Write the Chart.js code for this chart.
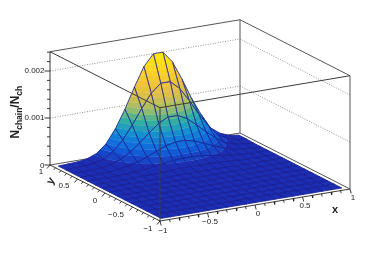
<!DOCTYPE html>
<html>
<head>
<meta charset="utf-8">
<title>N chain surface</title>
<script src="https://cdn.jsdelivr.net/npm/chart.js@4/dist/chart.umd.min.js"></script>
<style>
    html,body{margin:0;padding:0;background:#fff;}
    canvas{display:block;}
</style>
</head>
<body>
<canvas id="myChart" width="374" height="254"></canvas>
<script>
// Values
const xNodes = [-0.95,-0.85,-0.75,-0.65,-0.55,-0.45,-0.35,-0.25,-0.15,-0.05,0.05,0.15,0.25,0.35,0.45,0.55,0.65,0.75,0.85,0.95];
const yNodes = [-0.933,-0.8,-0.667,-0.533,-0.4,-0.267,-0.133,0,0.133,0.267,0.4,0.533,0.667,0.8,0.933];
// z in units of 1e-5, one row per y node, first row is y = -0.933
const zRows = [
    [0,0,0,0,0,0,0,0,0,0,0,0,0,0,0,0,0,0,0,0],
    [0,0,0,0,0,0,0,0,0,0,0,0,0,0,0,0,0,0,0,0],
    [0,0,0,0,0,0,0,0,0,0,0,0,0,0,0,0,0,0,0,0],
    [0,0,0,0,0,0,0,0,0,0,0,0,0,0,0,0,0,0,0,0],
    [0,0,0,0,0,0,0,0,0,0,0,0,0,0,0,0,0,0,0,0],
    [0,0,0,0,0,0,0,0,0,0,0,0,0,0,0,0,0,0,0,0],
    [0,0,0,0,0,0,0,0,0,0,0,0,0,0,0,0,0,0,0,0],
    [0,0,0,0,0,0,0,0,0,0,0,0,0,0,0,0,0,0,0,0],
    [0,0,0,0,0,0,0,0,1,1,1,1,1,1,0,0,0,0,0,0],
    [0,0,0,0,0,1,1,2,3,4,4,4,4,3,2,1,0,0,0,0],
    [0,0,0,0,1,2,4,7,10,13,14,14,13,10,7,4,2,1,0,0],
    [0,0,0,1,3,6,12,19,28,36,41,41,36,28,19,12,5,2,1,0],
    [0,0,1,2,5,13,25,41,59,76,86,86,76,59,41,25,11,5,2,0],
    [0,1,1,4,9,22,43,71,103,132,150,150,132,103,71,43,20,9,3,1],
    [0,1,2,5,13,30,59,97,141,181,205,205,181,141,97,59,27,12,4,1]
];
const zUnit = 1e-5;

// Axis ticks and labels
const zMajor = [0,0.001,0.002];
const zMinor = [0.0002,0.0004,0.0006,0.0008,0.0012,0.0014,0.0016,0.0018,0.0022,0.0024];
const xyMajor = [-1,-0.5,0,0.5,1];
const xyMinor = [-0.9,-0.8,-0.7,-0.6,-0.4,-0.3,-0.2,-0.1,0.1,0.2,0.3,0.4,0.6,0.7,0.8,0.9];
const zTop = 0.00241;

// Colour palette of the surface, from low to high
const paletteStops = [[28,46,180],[16,100,222],[18,140,212],[50,176,158],[165,190,102],[220,190,72],[242,196,55],[253,213,32],[255,230,10]];
const bandCount = 20;

// Oblique projection of the box on the page
function project(x,y,z){
    return {
        x: 160 + 95*(x+1) - 55*(y+1),
        y: 221 - 16*(x+1) - 28*(y+1) - z*47000
    };
}

function seg(list,a,b){
    list.push(a,b,{x:null,y:null});
}

// Lines behind the surface
const gridLines = [];
zMajor.slice(1).forEach(z => {
    seg(gridLines,project(-1,1,z),project(1,1,z));
    seg(gridLines,project(1,1,z),project(1,-1,z));
});
const backLines = [];
seg(backLines,project(-1,1,0),project(1,1,0));
seg(backLines,project(1,1,0),project(1,-1,0));
seg(backLines,project(1,1,0),project(1,1,zTop));
seg(backLines,project(-1,1,zTop),project(1,1,zTop));
seg(backLines,project(1,1,zTop),project(1,-1,zTop));
seg(backLines,project(1,-1,0),project(1,-1,zTop));

// Lines on top of the surface
const frontLines = [];
seg(frontLines,project(-1,-1,0),project(-1,-1,zTop));
seg(frontLines,project(-1,1,zTop),project(-1,-1,zTop));
seg(frontLines,project(-1,-1,zTop),project(1,-1,zTop));
const axisLines = [];
seg(axisLines,project(-1,1,0),project(-1,1,zTop));
seg(axisLines,project(-1,1,0),project(-1,-1,0));
seg(axisLines,project(-1,-1,0),project(1,-1,0));
function tick(list,p,dx,dy){
    seg(list,p,{x:p.x+dx,y:p.y+dy});
}
zMajor.forEach(z => tick(axisLines,project(-1,1,z),-5.5,0));
zMinor.forEach(z => tick(axisLines,project(-1,1,z),-3,0));
xyMajor.forEach(v => {
    tick(axisLines,project(v,-1,0),1.2,4.5);
    tick(axisLines,project(-1,v,0),-3,3.5);
});
xyMinor.forEach(v => {
    tick(axisLines,project(v,-1,0),0.7,2.6);
    tick(axisLines,project(-1,v,0),-1.8,2.1);
});

// Colour of a band
function bandColor(k){
    const t = k/(bandCount-1)*(paletteStops.length-1);
    const a = Math.min(Math.floor(t),paletteStops.length-2);
    const f = t-a;
    const c = paletteStops[a].map((v,n) => Math.round(v+(paletteStops[a+1][n]-v)*f));
    return 'rgb('+c[0]+','+c[1]+','+c[2]+')';
}

// Keep the part of a polygon on one side of a z level
function clipZ(poly,level,keepAbove){
    const out = [];
    for(let i=0;i<poly.length;i++){
        const p = poly[i];
        const q = poly[(i+1)%poly.length];
        const pIn = keepAbove ? p.z>=level : p.z<=level;
        const qIn = keepAbove ? q.z>=level : q.z<=level;
        if(pIn){
            out.push(p);
        }
        if(pIn!==qIn){
            const f = (level-p.z)/(q.z-p.z);
            out.push({x:p.x+(q.x-p.x)*f,y:p.y+(q.y-p.y)*f,z:level});
        }
    }
    return out;
}

// Surface painted cell by cell, far cells first
const surfacePlugin = {
    id:'surface',
    afterDatasetDraw(chart,args){
        if(chart.data.datasets[args.index].label!=='back frame'){
            return;
        }
        const ctx = chart.ctx;
        const sx = chart.scales.x;
        const sy = chart.scales.y;
        const zMax = Math.max(...zRows.flat());
        function node(i,j){
            const z = zRows[j][i];
            const p = project(xNodes[i],yNodes[j],z*zUnit);
            return {x:sx.getPixelForValue(p.x),y:sy.getPixelForValue(p.y),z:z};
        }
        function path(poly){
            ctx.beginPath();
            poly.forEach((p,n) => n ? ctx.lineTo(p.x,p.y) : ctx.moveTo(p.x,p.y));
            ctx.closePath();
        }
        ctx.save();
        ctx.lineJoin = 'round';
        for(let j=yNodes.length-2;j>=0;j--){
            for(let i=xNodes.length-2;i>=0;i--){
                const cell = [node(i,j),node(i+1,j),node(i+1,j+1),node(i,j+1)];
                for(let k=0;k<bandCount;k++){
                    const lo = zMax*k/bandCount;
                    const hi = zMax*(k+1)/bandCount;
                    let part = k===0 ? cell : clipZ(cell,lo,true);
                    if(part.length>2){
                        part = clipZ(part,hi,false);
                    }
                    if(part.length>2){
                        path(part);
                        ctx.fillStyle = bandColor(k);
                        ctx.strokeStyle = ctx.fillStyle;
                        ctx.lineWidth = 0.4;
                        ctx.fill();
                        ctx.stroke();
                    }
                }
                path(cell);
                ctx.strokeStyle = 'rgb(25,32,145)';
                ctx.lineWidth = 0.8;
                ctx.stroke();
            }
        }
        ctx.restore();
    }
};

// Tick labels and axis titles
const labelPlugin = {
    id:'labels',
    afterDraw(chart){
        const ctx = chart.ctx;
        ctx.save();
        ctx.fillStyle = '#222';
        ctx.textBaseline = 'middle';
        ctx.font = '8px "Liberation Sans"';
        function put(text,x,y,align){
            ctx.textAlign = align || 'center';
            ctx.fillText(text,x,y);
        }
        put('0.002',44.5,71,'right');
        put('0.001',44.5,118,'right');
        put('0',44.5,165.5,'right');
        put('1',41,172);
        put('0.5',64,186);
        put('0',95,200.5);
        put('\u22120.5',116,215);
        put('\u22121',148,229);
        put('\u22121',163,231);
        put('\u22120.5',210,222);
        put('0',258,214);
        put('0.5',305,206);
        put('1',353,198);

        ctx.font = 'bold 11px "Liberation Sans"';
        put('x',335,210);
        ctx.save();
        ctx.translate(51,181);
        ctx.rotate(-60*Math.PI/180);
        put('y',0,0);
        ctx.restore();

        // N_chain/N_ch, rotated
        ctx.save();
        ctx.translate(18.5,138.5);
        ctx.rotate(-Math.PI/2);
        ctx.textAlign = 'left';
        ctx.textBaseline = 'alphabetic';
        let pos = 0;
        function run(text,size,drop){
            ctx.font = 'bold '+size+'px "Liberation Sans"';
            ctx.fillText(text,pos,drop);
            pos += ctx.measureText(text).width;
        }
        run('N',12,0);
        run('chain',8.5,3.5);
        run('/',12,0);
        run('N',12,0);
        run('ch',8.5,3.5);
        ctx.restore();
        ctx.restore();
    }
};

function lineSet(label,data,color,width,order,dash){
    return {
        label:label,
        data:data,
        showLine:true,
        spanGaps:false,
        borderColor:color,
        borderWidth:width,
        borderDash:dash || [],
        pointRadius:0,
        order:order,
        clip:false
    };
}

const ctx = document.getElementById('myChart').getContext('2d');
const myChart = new Chart(ctx,{
    type:'scatter',
    data:{
        datasets:[
            lineSet('grid',gridLines,'#777',0.8,5,[1,1.5]),
            lineSet('back frame',backLines,'#555',1,4),
            lineSet('front frame',frontLines,'#3c3c3c',1,2),
            lineSet('axes',axisLines,'#222',0.9,1)
        ]
    },
    options:{
        responsive:false,
        animation:false,
        layout:{padding:0},
        plugins:{legend:{display:false},tooltip:{enabled:false}},
        scales:{
            x:{type:'linear',min:0,max:374,display:false},
            y:{type:'linear',min:0,max:254,reverse:true,display:false}
        }
    },
    plugins:[surfacePlugin,labelPlugin]
});
</script>
</body>
</html>
